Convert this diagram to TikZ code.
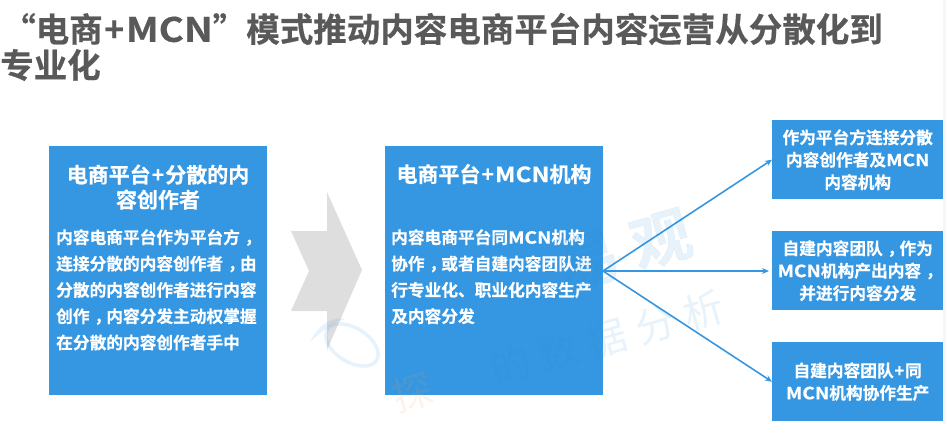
\documentclass[tikz,border=0pt]{standalone}
\usepackage{fontspec}
\setmainfont{Noto Sans CJK SC}[BoldFont={Noto Sans CJK SC Bold},BoldFeatures={FakeBold=0.5}]
\usetikzlibrary{arrows.meta}
\definecolor{boxblue}{HTML}{3597E2}
\definecolor{titlegray}{HTML}{595959}
\definecolor{chev}{HTML}{DEDEDE}
\definecolor{wmblue}{HTML}{2A8BD8}
\definecolor{wmorange}{HTML}{F0A050}
\definecolor{edgegray}{HTML}{F6F6F6}
\newcommand{\MCNname}{\scalebox{1.15}[1]{MCN}}
\newcommand{\plusmark}{\kern.05em+\kern.05em}
\newcommand{\cma}{\kern.28em，\kern-.28em}
\newcommand{\wk}{\kern.25em}
\tikzset{
 bluebox/.style={fill=boxblue,draw=none,inner sep=0pt,anchor=north west},
 headtext/.style={text=white,font=\bfseries\fontsize{21}{25}\selectfont,align=center,inner sep=0pt},
 bodytext/.style={text=white,font=\bfseries\fontsize{16.7}{26.3}\selectfont,align=left,anchor=north west,inner sep=0pt},
 sidetext/.style={text=white,font=\bfseries\fontsize{16.7}{22.4}\selectfont,align=center,inner sep=0pt},
 titletext/.style={text=titlegray,font=\bfseries\fontsize{33.5}{36}\selectfont,anchor=west,inner sep=0pt},
 link/.style={draw=boxblue,line width=1.6pt,-{Stealth[length=7pt,width=6pt]}},
 wmbig/.style={text=wmblue,text opacity=.11,rotate=16,inner sep=0pt,font=\bfseries\fontsize{60}{60}\selectfont},
 wmthin/.style={text=wmblue,text opacity=.11,rotate=16,inner sep=0pt,font=\fontsize{40}{40}\selectfont},
 wmlogo/.style={draw=wmblue,draw opacity=.11,line width=3.5pt},
}
\begin{document}
\begin{tikzpicture}[x=1pt,y=-1pt]
\useasboundingbox (0,0) rectangle (946,424);
\fill[edgegray] (943,0) rectangle (946,424);
\node[titletext] (t1) at (2,29) {“电商\plusmark\MCNname”模式推动内容电商平台内容运营从分散化到};
\node[titletext] (t2) at (0,65) {专业化};
\fill[chev] (291,231) -- (327,231) -- (327,192) -- (362,270) -- (327,350) -- (327,311) -- (291,311) -- (309,271) -- cycle;
\node[bluebox,minimum width=218pt,minimum height=249pt] (a) at (49,146) {};
\node[bluebox,minimum width=218pt,minimum height=249pt] (b) at (385,146) {};
\node[bluebox,minimum width=171pt,minimum height=79pt] (c1) at (772,120) {};
\node[bluebox,minimum width=171pt,minimum height=79pt] (c2) at (772,231) {};
\node[bluebox,minimum width=171pt,minimum height=79pt] (c3) at (772,342) {};
\node[headtext] (ah) at (158,187) {电商平台\plusmark 分散的内\\容创作者};
\node[headtext] (bh) at (494,174) {电商平台\plusmark\MCNname 机构};
\node[bodytext] (ab) at (56,229) {内容电商平台作为平台方\cma\\连接分散的内容创作者\cma 由\\分散的内容创作者进行内容\\创作\cma 内容分发主动权掌握\\在分散的内容创作者手中};
\node[bodytext] (bb) at (391,229) {内容电商平台同\MCNname 机构\\协作\cma 或者自建内容团队进\\行专业化、职业化内容生产\\及内容分发};
\node[sidetext] (c1t) at (c1.center) {作为平台方连接分散\\内容创作者及\MCNname\\内容机构};
\node[sidetext] (c2t) at (c2.center) {自建内容团队\cma 作为\\\MCNname 机构产出内容\cma\\并进行内容分发};
\node[sidetext] (c3t) at (c3.center) {自建内容团队\plusmark 同\\\MCNname 机构协作生产};
\coordinate (o) at (603,271);
\coordinate (mid) at (769,271);
\draw[link] (o) -- (c1.west);
\draw[link] (o) -- (mid);
\draw[link] (o) -- (c3.west);
% watermark
\node[wmbig] (w1) at (625,250) {易\wk 观};
\node[wmthin] (w2) at (607,338) {的\wk 数\wk 据\wk 分\wk 析};
\node[wmthin,text=wmorange,text opacity=.12] (w3) at (412,392) {探};
\draw[wmlogo,rotate around={-32:(352,345)}] (352,345) ellipse [x radius=29pt,y radius=17pt];
\fill[wmblue,fill opacity=.11] (310,342) .. controls (318,325) and (332,316) .. (346,319) .. controls (334,322) and (322,331) .. (310,342) -- cycle;
\end{tikzpicture}
\end{document}
